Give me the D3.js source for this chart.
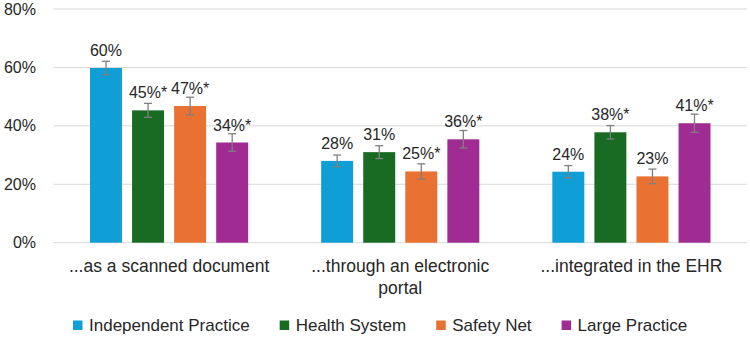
<!DOCTYPE html>
<html><head><meta charset="utf-8">
<script src="https://cdn.jsdelivr.net/npm/d3@7"></script>
<style>html,body{margin:0;padding:0;background:#fff;}svg{display:block;font-family:"Liberation Sans",Arial,sans-serif;}</style>
</head><body><svg id="c" width="750" height="337"></svg>
<script>
const categories = ["...as a scanned document", "...through an electronic portal", "...integrated in the EHR"];
const categoryLines = [["...as a scanned document"], ["...through an electronic", "portal"], ["...integrated in the EHR"]];
const seriesNames = ["Independent Practice", "Health System", "Safety Net", "Large Practice"];
const seriesColors = ["#0F9ED5", "#196B24", "#E97132", "#A02B93"];
const independentPractice = [59.8, 28.0, 24.3];
const healthSystem = [45.3, 31.0, 37.8];
const safetyNet = [46.8, 24.4, 22.7];
const largePractice = [34.3, 35.4, 40.9];
const errIndependent = [2.3, 2.0, 2.1];
const errHealth = [2.4, 2.2, 2.3];
const errSafety = [3.0, 2.6, 2.5];
const errLarge = [3.0, 3.0, 3.1];
const labelIndependent = ["60%", "28%", "24%"];
const labelHealth = ["45%*", "31%", "38%*"];
const labelSafety = ["47%*", "25%*", "23%"];
const labelLarge = ["34%*", "36%*", "41%*"];
const yTicks = [0, 20, 40, 60, 80];

const seriesValues = [independentPractice, healthSystem, safetyNet, largePractice];
const seriesErr = [errIndependent, errHealth, errSafety, errLarge];
const seriesLabels = [labelIndependent, labelHealth, labelSafety, labelLarge];

const svg = d3.select("#c");
const plotLeft = 53.5, plotRight = 747, plotTop = 9, plotBottom = 242.7;

const y = d3.scaleLinear().domain([0, 80]).range([plotBottom, plotTop]);
const x0 = d3.scaleBand().domain(categories).range([plotLeft, plotRight]).padding(0);
const x1 = d3.scaleBand().domain(seriesNames).range([36.5, x0.bandwidth() - 36.5]).paddingInner(0.24).paddingOuter(0);

// gridlines
svg.append("g").selectAll("line").data(yTicks).join("line")
  .attr("x1", plotLeft).attr("x2", plotRight)
  .attr("y1", d => y(d)).attr("y2", d => y(d))
  .attr("stroke", "#d9d9d9").attr("stroke-width", 1);

// y tick labels
svg.append("g").selectAll("text").data(yTicks).join("text")
  .attr("x", 36).attr("y", d => y(d)).attr("dy", "0.35em")
  .attr("text-anchor", "end").attr("font-size", 16).attr("fill", "#262626")
  .text(d => d + "%");

seriesNames.forEach((s, si) => {
  const data = categories.map((c, ci) => ({c, v: seriesValues[si][ci], e: seriesErr[si][ci], l: seriesLabels[si][ci]}));
  const g = svg.append("g");
  g.selectAll("rect").data(data).join("rect")
    .attr("x", d => x0(d.c) + x1(s)).attr("width", x1.bandwidth())
    .attr("y", d => y(d.v)).attr("height", d => y(0) - y(d.v))
    .attr("fill", seriesColors[si]);
  const cx = d => x0(d.c) + x1(s) + x1.bandwidth() / 2;
  const eg = g.append("g").attr("stroke", "#7f7f7f").attr("stroke-width", 1.3);
  eg.selectAll("line.v").data(data).join("line").attr("class", "v")
    .attr("x1", cx).attr("x2", cx).attr("y1", d => y(d.v + d.e)).attr("y2", d => y(d.v - d.e));
  eg.selectAll("line.t").data(data).join("line").attr("class", "t")
    .attr("x1", d => cx(d) - 4).attr("x2", d => cx(d) + 4).attr("y1", d => y(d.v + d.e)).attr("y2", d => y(d.v + d.e));
  eg.selectAll("line.b").data(data).join("line").attr("class", "b")
    .attr("x1", d => cx(d) - 4).attr("x2", d => cx(d) + 4).attr("y1", d => y(d.v - d.e)).attr("y2", d => y(d.v - d.e));
  g.selectAll("text").data(data).join("text")
    .attr("x", cx).attr("y", d => y(d.v) - 12)
    .attr("text-anchor", "middle").attr("font-size", 16).attr("fill", "#262626")
    .text(d => d.l);
});

// category labels
categories.forEach((c, ci) => {
  const cxp = x0(c) + x0.bandwidth() / 2;
  const t = svg.append("text").attr("text-anchor", "middle").attr("font-size", 17.5).attr("fill", "#262626")
    .attr("x", cxp).attr("y", 272);
  categoryLines[ci].forEach((ln, li) => {
    t.append("tspan").attr("x", cxp).attr("dy", li === 0 ? 0 : 22).text(ln);
  });
});

// legend
const lg = svg.append("g");
let lx = 73;
seriesNames.forEach((s, si) => {
  lg.append("rect").attr("x", lx).attr("y", 320.5).attr("width", 9.5).attr("height", 9.5).attr("fill", seriesColors[si]);
  const t = lg.append("text").attr("x", lx + 16).attr("y", 325.5).attr("dy", "0.35em")
    .attr("font-size", 17).attr("fill", "#262626").text(s);
  const w = t.node().getComputedTextLength();
  lx += 16 + w + 30;
});
</script></body></html>
